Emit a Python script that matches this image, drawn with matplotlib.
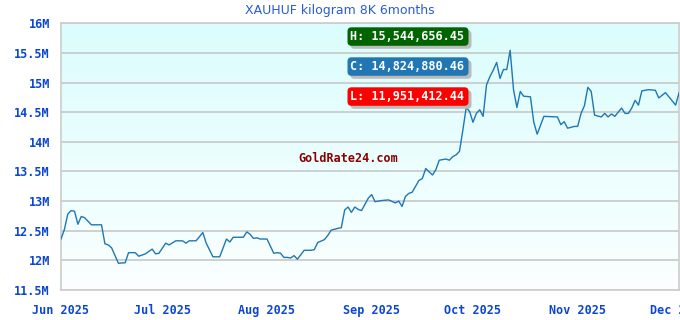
import numpy as np
import pandas as pd
import matplotlib
matplotlib.use('Agg')
import matplotlib.pyplot as plt
import matplotlib.dates as mdates
from matplotlib.patches import FancyBboxPatch
from matplotlib.transforms import IdentityTransform
from matplotlib.ticker import FuncFormatter, MultipleLocator

title = 'XAUHUF kilogram 8K 6months'

dates = ['2025-06-01', '2025-06-02', '2025-06-03', '2025-06-04', '2025-06-05', '2025-06-06',
         '2025-06-07', '2025-06-08', '2025-06-10', '2025-06-13', '2025-06-14', '2025-06-15',
         '2025-06-16', '2025-06-18', '2025-06-20', '2025-06-21', '2025-06-23', '2025-06-24',
         '2025-06-26', '2025-06-28', '2025-06-29', '2025-06-30', '2025-07-02', '2025-07-03',
         '2025-07-05', '2025-07-07', '2025-07-08', '2025-07-09', '2025-07-11', '2025-07-13',
         '2025-07-14', '2025-07-16', '2025-07-18', '2025-07-20', '2025-07-21', '2025-07-22',
         '2025-07-25', '2025-07-26', '2025-07-27', '2025-07-28', '2025-07-29', '2025-07-30',
         '2025-08-01', '2025-08-03', '2025-08-04', '2025-08-05', '2025-08-06', '2025-08-07',
         '2025-08-08', '2025-08-09', '2025-08-10', '2025-08-12', '2025-08-14', '2025-08-15',
         '2025-08-16', '2025-08-18', '2025-08-19', '2025-08-20', '2025-08-22', '2025-08-23',
         '2025-08-24', '2025-08-25', '2025-08-26', '2025-08-27', '2025-08-28', '2025-08-29',
         '2025-08-31', '2025-09-01', '2025-09-02', '2025-09-04', '2025-09-06', '2025-09-08',
         '2025-09-09', '2025-09-10', '2025-09-11', '2025-09-12', '2025-09-13', '2025-09-14',
         '2025-09-15', '2025-09-16', '2025-09-17', '2025-09-19', '2025-09-20', '2025-09-21',
         '2025-09-23', '2025-09-24', '2025-09-25', '2025-09-26', '2025-09-27', '2025-09-28',
         '2025-09-29', '2025-09-30', '2025-10-01', '2025-10-02', '2025-10-03', '2025-10-04',
         '2025-10-05', '2025-10-06', '2025-10-07', '2025-10-08', '2025-10-09', '2025-10-10',
         '2025-10-11', '2025-10-12', '2025-10-13', '2025-10-14', '2025-10-15', '2025-10-16',
         '2025-10-18', '2025-10-19', '2025-10-20', '2025-10-22', '2025-10-26', '2025-10-27',
         '2025-10-28', '2025-10-29', '2025-10-31', '2025-11-01', '2025-11-02', '2025-11-03',
         '2025-11-04', '2025-11-05', '2025-11-06', '2025-11-08', '2025-11-09', '2025-11-10',
         '2025-11-11', '2025-11-12', '2025-11-14', '2025-11-15', '2025-11-16', '2025-11-17',
         '2025-11-18', '2025-11-19', '2025-11-20', '2025-11-22', '2025-11-24', '2025-11-25',
         '2025-11-27', '2025-11-28', '2025-11-30', '2025-12-01']

# price in millions of HUF
price = [12.36, 12.52, 12.78, 12.84, 12.83, 12.61,
         12.74, 12.72, 12.60, 12.60, 12.28, 12.26,
         12.21, 11.951412, 11.96, 12.13, 12.13, 12.07,
         12.11, 12.19, 12.11, 12.12, 12.29, 12.26,
         12.33, 12.33, 12.29, 12.33, 12.33, 12.47,
         12.29, 12.06, 12.06, 12.36, 12.31, 12.39,
         12.39, 12.48, 12.44, 12.37, 12.38, 12.36,
         12.36, 12.12, 12.13, 12.12, 12.05, 12.05,
         12.04, 12.08, 12.02, 12.17, 12.17, 12.18,
         12.30, 12.35, 12.42, 12.51, 12.54, 12.55,
         12.85, 12.90, 12.81, 12.90, 12.86, 12.84,
         13.05, 13.11, 12.99, 13.01, 13.02, 12.97,
         13.00, 12.91, 13.08, 13.13, 13.15, 13.25,
         13.35, 13.38, 13.55, 13.44, 13.53, 13.69,
         13.71, 13.69, 13.75, 13.78, 13.84, 14.20,
         14.58, 14.51, 14.33, 14.48, 14.54, 14.43,
         14.96, 15.10, 15.21, 15.34, 15.07, 15.22,
         15.22, 15.544656, 14.88, 14.58, 14.85, 14.77,
         14.76, 14.33, 14.13, 14.43, 14.42, 14.29,
         14.34, 14.23, 14.26, 14.26, 14.48, 14.61,
         14.92, 14.85, 14.45, 14.42, 14.48, 14.42,
         14.47, 14.43, 14.57, 14.48, 14.48, 14.57,
         14.70, 14.62, 14.86, 14.88, 14.87, 14.74,
         14.83, 14.76, 14.62, 14.824880]

stat_labels = ['H: 15,544,656.45', 'C: 14,824,880.46', 'L: 11,951,412.44']
stat_colors = ['#006400', '#2077b4', '#ff0000']

blue = '#0a46d2'
mono = 'DejaVu Sans Mono'

x = pd.to_datetime(dates)
y = np.array(price) * 1e6

fig = plt.figure(figsize=(6.8, 3.2), dpi=100)
ax = fig.add_axes([61 / 680, 1 - 290 / 320, 618 / 680, (290 - 23.3) / 320])

# light cyan gradient background
grad = np.linspace(0, 1, 256).reshape(-1, 1)
top = np.array([219, 253, 253]) / 255
bot = np.array([251, 255, 255]) / 255
img = top + (bot - top) * grad[:, :, None]
ax.imshow(img, extent=[0, 1, 0, 1], transform=ax.transAxes, aspect='auto', zorder=0)

ax.plot(x, y, color='#1f77b4', lw=1.0, zorder=3)

ax.set_xlim(pd.Timestamp('2025-06-01'), pd.Timestamp('2025-12-01'))
ax.set_ylim(11.5e6, 16e6)
ax.yaxis.set_major_locator(MultipleLocator(0.5e6))
ax.yaxis.set_major_formatter(FuncFormatter(lambda v, p: f'{v / 1e6:g}M'))
ax.xaxis.set_major_locator(mdates.MonthLocator())
ax.xaxis.set_major_formatter(mdates.DateFormatter('%b %Y'))
ax.grid(axis='y', color='#c8c8c8', lw=1.2, zorder=1)
ax.tick_params(length=0, pad=8, labelcolor=blue)
ax.tick_params(axis='x', pad=10)
for lab in ax.get_xticklabels() + ax.get_yticklabels():
    lab.set_fontfamily(mono)
    lab.set_fontweight('bold')
    lab.set_fontsize(8.5)
for s in ax.spines.values():
    s.set_color('#cccccc')
    s.set_linewidth(1.2)

fig.text(0.5, 1 - 10.5 / 320, title, ha='center', va='center', color='#2a5bd7',
         fontsize=9, family='DejaVu Sans')

ax.text(348 / 618 - 61 / 618, 1 - (158 - 23.3) / 266.7, 'GoldRate24.com', transform=ax.transAxes,
        ha='center', va='center', color='#8b0000', fontsize=8.5, family=mono, fontweight='bold',
        zorder=4)

# H / C / L badges (pixel positions)
for i, (lab, col) in enumerate(zip(stat_labels, stat_colors)):
    top_px = 27.3 + i * 30
    x0, w, h = 347.5, 121, 18.5
    yb = 320 - top_px - h
    sh = FancyBboxPatch((x0 + 3, yb - 3), w, h, boxstyle='round,pad=0,rounding_size=4',
                        transform=IdentityTransform(), facecolor='#bbbbbb', edgecolor='none', zorder=5)
    bx = FancyBboxPatch((x0, yb), w, h, boxstyle='round,pad=0,rounding_size=4',
                        transform=IdentityTransform(), facecolor=col, edgecolor='none', zorder=6)
    fig.patches.extend([sh, bx])
    fig.text((x0 + 3) / 680, (yb + h / 2) / 320, lab, ha='left', va='center', color='white',
             fontsize=8.5, family=mono, fontweight='bold', zorder=7)

fig.savefig('out.png', dpi=100)
